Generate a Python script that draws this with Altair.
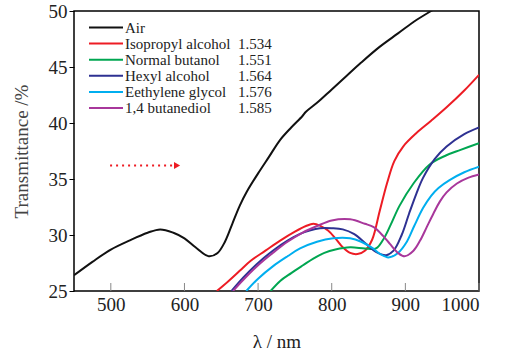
import altair as alt
import pandas as pd

# Transmittance spectra (wavelength in nm, transmittance in %)
air_nm = [450, 475, 500, 525, 550, 567, 585, 600, 615, 633, 645, 655, 665, 675, 685, 700,
          715, 730, 745, 760, 765, 780, 800, 820, 840, 865, 890, 915, 935, 945]
air_t = [26.4, 27.6, 28.7, 29.5, 30.2, 30.5, 30.2, 29.7, 28.9, 28.1, 28.4, 29.4, 31.0, 32.6,
         33.9, 35.5, 37.0, 38.5, 39.6, 40.6, 41.0, 41.8, 43.0, 44.2, 45.4, 46.8, 48.0, 49.2, 50.0, 50.4]

iso_nm = [644, 660, 675, 690, 710, 730, 750, 765, 775, 785, 795, 805, 815, 825, 835, 845,
          855, 865, 875, 885, 897, 915, 935, 956, 980, 1000]
iso_t = [25.0, 25.9, 26.8, 27.7, 28.6, 29.5, 30.3, 30.8, 31.0, 30.8, 30.4, 29.7, 28.9, 28.4,
         28.3, 28.6, 29.6, 32.1, 34.6, 36.6, 37.9, 39.1, 40.2, 41.4, 42.9, 44.3]

but_nm = [717, 730, 745, 761, 775, 790, 805, 825, 845, 860, 870, 880, 892, 911, 933, 955, 975, 1000]
but_t = [25.0, 25.9, 26.6, 27.3, 27.9, 28.4, 28.7, 28.9, 28.8, 28.8, 29.6, 30.9, 32.6, 34.6,
         36.3, 37.1, 37.6, 38.2]

hex_nm = [664, 680, 700, 720, 740, 757, 770, 784, 800, 815, 830, 847, 860, 874, 884, 895,
          905, 915, 924, 940, 956, 980, 1000]
hex_t = [25.0, 26.2, 27.5, 28.6, 29.5, 30.1, 30.4, 30.6, 30.6, 30.5, 30.1, 29.2, 28.5, 28.2,
         28.6, 30.0, 31.9, 33.7, 35.1, 36.8, 37.9, 39.0, 39.6]

gly_nm = [684, 700, 720, 740, 757, 780, 802, 825, 840, 856, 866, 877, 890, 902, 912, 924,
          935, 945, 960, 980, 1000]
gly_t = [25.0, 26.1, 27.2, 28.1, 28.8, 29.4, 29.7, 29.7, 29.4, 28.8, 28.3, 28.0, 28.4, 29.4,
         30.8, 32.4, 33.5, 34.2, 34.9, 35.6, 36.1]

bdo_nm = [666, 680, 700, 720, 740, 760, 780, 800, 825, 845, 857, 870, 879, 890, 899, 911,
          920, 929, 938, 947, 956, 970, 985, 1000]
bdo_t = [25.0, 26.0, 27.3, 28.4, 29.4, 30.2, 30.8, 31.3, 31.4, 31.0, 30.7, 29.9, 29.2, 28.4,
         28.1, 28.6, 29.5, 30.7, 31.9, 33.0, 33.8, 34.6, 35.1, 35.4]

names = ["Air", "Isopropyl alcohol", "Normal butanol", "Hexyl alcohol",
         "Eethylene glycol", "1,4 butanediol"]
indices = ["", "1.534", "1.551", "1.564", "1.576", "1.585"]
colors = ["#111111", "#ED1C24", "#00A651", "#2E3192", "#00AEEF", "#A8379B"]

# Red dotted arrow annotation (wavelength span, transmittance level)
arrow_nm = [499, 584]
arrow_head_nm = [590]
arrow_t = 36.2

x_ticks = [500, 600, 700, 800, 900, 1000]

series = [(air_nm, air_t), (iso_nm, iso_t), (but_nm, but_t),
          (hex_nm, hex_t), (gly_nm, gly_t), (bdo_nm, bdo_t)]
rows = []
for name, (xs, ys) in zip(names, series):
    for k, (x, y) in enumerate(zip(xs, ys)):
        rows.append({"series": name, "nm": x, "T": y, "order": k})
df = pd.DataFrame(rows)

FONT = "Liberation Serif"
color_scale = alt.Scale(domain=names, range=colors)

x_scale = alt.Scale(domain=[450, 1000], nice=False)
y_scale = alt.Scale(domain=[25, 50], nice=False)

curves = alt.Chart(df).mark_line(strokeWidth=2, interpolate="catmull-rom", clip=True).encode(
    x=alt.X("nm:Q", scale=x_scale,
            axis=alt.Axis(values=x_ticks, format="d", ticks=False, domain=False, grid=False,
                          labelFont=FONT, labelFontSize=19, labelColor="#222",
                          labelPadding=4, title="λ / nm", titleFont=FONT,
                          titleFontSize=19, titleFontWeight="normal", titleColor="#222",
                          titlePadding=18)),
    y=alt.Y("T:Q", scale=y_scale,
            axis=alt.Axis(values=[25, 30, 35, 40, 45, 50], tickSize=5, tickColor="black",
                          domain=False, grid=False, labelFont=FONT, labelFontSize=19,
                          labelColor="#222", labelPadding=2, title="Transmittance /%",
                          titleFont=FONT, titleFontSize=19, titleFontWeight="normal",
                          titleColor="#444", titlePadding=17)),
    color=alt.Color("series:N", scale=color_scale, legend=None),
    order="order:Q",
    detail="series:N",
)

tick_df = pd.DataFrame({"nm": x_ticks})
bottom_ticks = alt.Chart(tick_df).mark_rule(color="#888", strokeWidth=1).encode(
    x=alt.X("nm:Q", scale=x_scale), y=alt.value(280), y2=alt.value(272)
)

arrow_df = pd.DataFrame({"x": [arrow_nm[0]], "x2": [arrow_nm[1]], "T": [arrow_t]})
arrow_line = alt.Chart(arrow_df).mark_rule(color="#ED1C24", strokeWidth=2,
                                           strokeDash=[2, 4]).encode(
    x=alt.X("x:Q", scale=x_scale), x2="x2:Q", y=alt.Y("T:Q", scale=y_scale)
)
head_df = pd.DataFrame({"x": arrow_head_nm, "T": [arrow_t]})
arrow_head = alt.Chart(head_df).mark_point(shape="triangle-right", filled=True,
                                           color="#ED1C24", size=50, opacity=1).encode(
    x=alt.X("x:Q", scale=x_scale), y=alt.Y("T:Q", scale=y_scale)
)

data_layer = alt.layer(curves, bottom_ticks, arrow_line, arrow_head)

# Legend drawn inside the plot area
leg_df = pd.DataFrame({"series": names, "index": indices, "row": list(range(len(names)))})
leg_y = alt.Y("row:Q", scale=alt.Scale(domain=[0, 5], range=[16.5, 97]), axis=None)
leg_lines = alt.Chart(leg_df).mark_rule(strokeWidth=2).encode(
    x=alt.value(15), x2=alt.value(49), y=leg_y,
    color=alt.Color("series:N", scale=color_scale, legend=None),
)
leg_names = alt.Chart(leg_df).mark_text(align="left", baseline="middle", font=FONT,
                                        fontSize=15, color="#222").encode(
    x=alt.value(51), y=leg_y, text="series:N"
)
leg_idx = alt.Chart(leg_df).mark_text(align="left", baseline="middle", font=FONT,
                                      fontSize=15, color="#222").encode(
    x=alt.value(164), y=leg_y, text="index:N"
)
legend_layer = alt.layer(leg_lines, leg_names, leg_idx)

chart = alt.layer(data_layer, legend_layer).resolve_scale(y="independent").properties(
    width=405, height=280,
    autosize=alt.AutoSizeParams(type="none"),
    padding={"left": 74, "top": 11, "right": 35, "bottom": 61},
    background="white",
).configure_view(stroke="black", strokeWidth=1.5)

chart.save("out.html", embed_options={"renderer": "svg", "actions": False})
